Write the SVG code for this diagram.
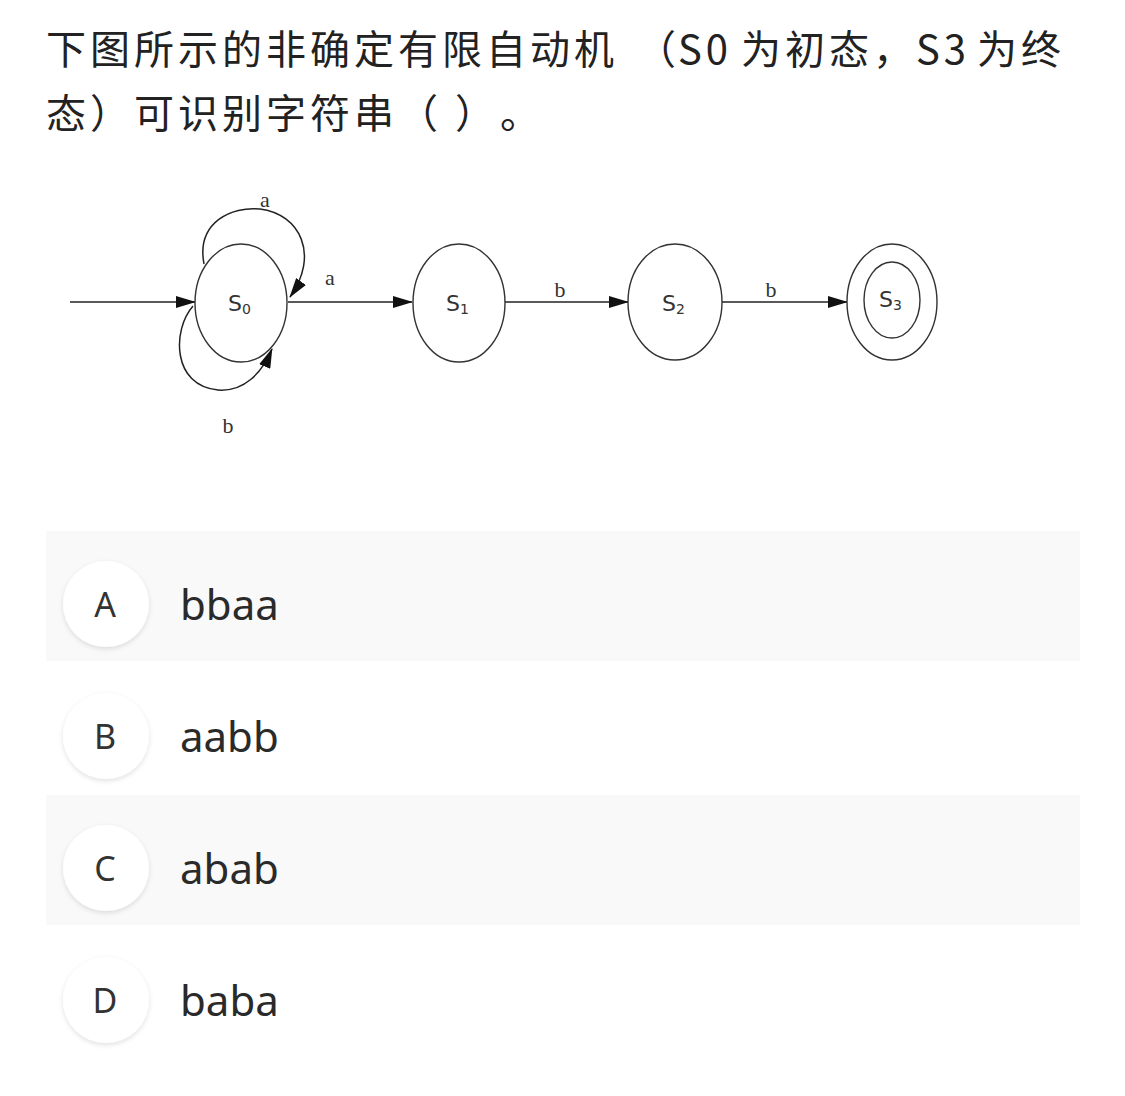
<svg xmlns="http://www.w3.org/2000/svg" width="1125" height="1096" viewBox="0 0 1125 1096">
<style>
.title{font-family:"Noto Sans CJK SC","Noto Sans",sans-serif;font-size:40px;fill:#222;letter-spacing:4px}
.st{fill:#fff;stroke:#333;stroke-width:1.4}
.ln{fill:none;stroke:#222;stroke-width:1.5}
.lbl{font-family:"Liberation Serif","DejaVu Serif",serif;font-size:22px;fill:#333}
.sn{font-family:"DejaVu Sans","Liberation Sans",sans-serif;font-size:22px;fill:#333}
.sub{font-size:14px}
.opt{font-family:"Noto Sans","Open Sans",sans-serif;font-size:42px;fill:#2a2a2a}
.badge{fill:#fff}
.bl{font-family:"Noto Sans","Liberation Sans",sans-serif;font-size:34px;fill:#333;text-anchor:middle}
</style>
<defs>
<marker id="ah" viewBox="0 0 20 12" refX="19" refY="6" markerWidth="20" markerHeight="12" markerUnits="userSpaceOnUse" orient="auto">
<path d="M0,0 L20,6 L0,12 Z" fill="#111"/>
</marker>
<filter id="sh" x="-30%" y="-30%" width="160%" height="160%">
<feDropShadow dx="0" dy="2" stdDeviation="2.5" flood-color="#000" flood-opacity="0.12"/>
</filter>
</defs>
<rect width="1125" height="1096" fill="#fff"/>
<g id="question">
<text class="title" x="46" y="64">下图所示的非确定有限自动机<tspan x="636">（</tspan><tspan x="678">S0</tspan><tspan x="741">为初态，</tspan><tspan x="916">S3</tspan><tspan x="977">为终</tspan></text>
<text class="title" x="46" y="128">态）可识别字符串（ ）<tspan x="500">。</tspan></text>
</g>
<g id="connectors">
<line class="ln" x1="70" y1="302" x2="195" y2="302" marker-end="url(#ah)"/>
<line class="ln" x1="288" y1="302" x2="412" y2="302" marker-end="url(#ah)"/>
<line class="ln" x1="505" y1="302" x2="628" y2="302" marker-end="url(#ah)"/>
<line class="ln" x1="722" y1="302" x2="847" y2="302" marker-end="url(#ah)"/>
<path class="ln" d="M204,264 C196,222 232,206 260,209 C300,214 320,255 290,297" marker-end="url(#ah)"/>
<path class="ln" d="M193,306 C172,330 172,386 218,390 C244,392 262,373 272,349" marker-end="url(#ah)"/>
<text class="lbl" x="265" y="207" text-anchor="middle">a</text>
<text class="lbl" x="330" y="285" text-anchor="middle">a</text>
<text class="lbl" x="560" y="297" text-anchor="middle">b</text>
<text class="lbl" x="771" y="297" text-anchor="middle">b</text>
<text class="lbl" x="228" y="433" text-anchor="middle">b</text>
</g>
<g id="S0">
<ellipse class="st" cx="241" cy="303" rx="46" ry="59"/>
<text class="sn" x="228" y="311">S<tspan class="sub" dy="3">0</tspan></text>
</g>
<g id="S1">
<ellipse class="st" cx="459" cy="303" rx="46" ry="59"/>
<text class="sn" x="446" y="311">S<tspan class="sub" dy="3">1</tspan></text>
</g>
<g id="S2">
<ellipse class="st" cx="675" cy="302" rx="47" ry="58"/>
<text class="sn" x="662" y="311">S<tspan class="sub" dy="3">2</tspan></text>
</g>
<g id="S3">
<ellipse class="st" cx="892" cy="302" rx="45" ry="58"/>
<ellipse class="st" cx="892" cy="300" rx="28" ry="38"/>
<text class="sn" x="879" y="307">S<tspan class="sub" dy="3">3</tspan></text>
</g>
<g id="optionA">
<rect x="46" y="531" width="1034" height="130" fill="#f9f9f9"/>
<circle class="badge" cx="106" cy="604" r="43" filter="url(#sh)"/>
<text class="bl" x="105" y="617">A</text>
<text class="opt" x="180" y="620">bbaa</text>
</g>
<g id="optionB">
<circle class="badge" cx="106" cy="736" r="43" filter="url(#sh)"/>
<text class="bl" x="105" y="749">B</text>
<text class="opt" x="180" y="752">aabb</text>
</g>
<g id="optionC">
<rect x="46" y="795" width="1034" height="130" fill="#f9f9f9"/>
<circle class="badge" cx="106" cy="868" r="43" filter="url(#sh)"/>
<text class="bl" x="105" y="881">C</text>
<text class="opt" x="180" y="884">abab</text>
</g>
<g id="optionD">
<circle class="badge" cx="106" cy="1000" r="43" filter="url(#sh)"/>
<text class="bl" x="105" y="1013">D</text>
<text class="opt" x="180" y="1016">baba</text>
</g>
</svg>
